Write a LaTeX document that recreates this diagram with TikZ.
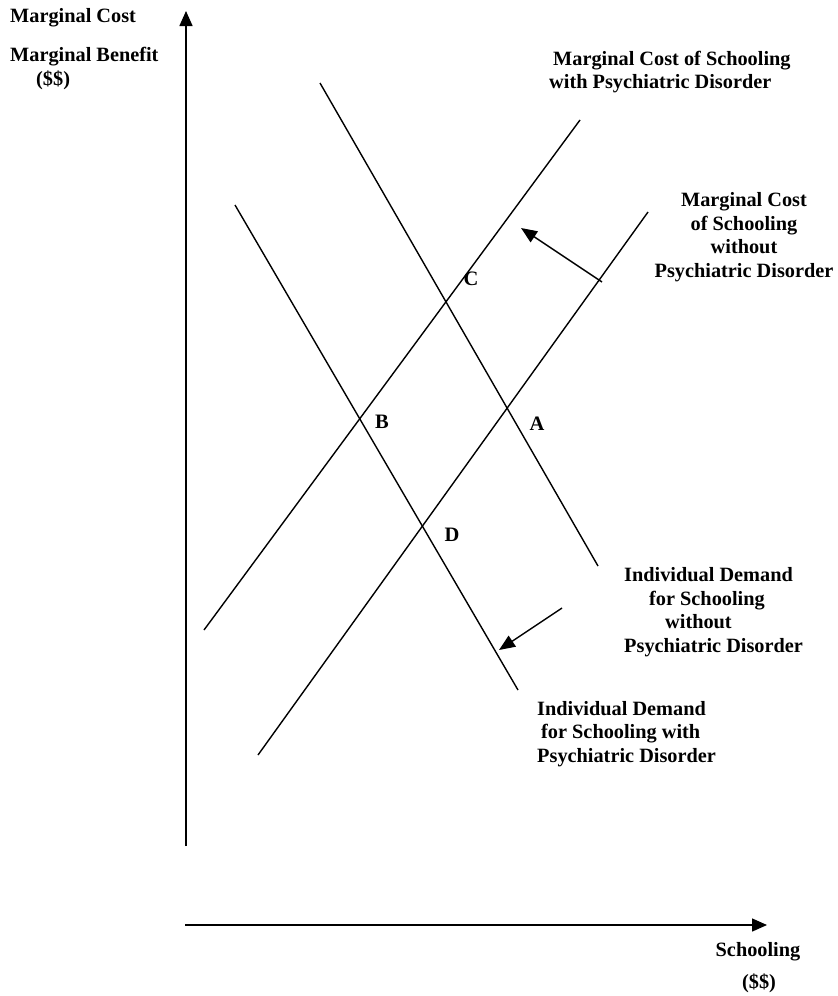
\documentclass[tikz,border=0pt]{standalone}
\usepackage{fontspec}
\setmainfont{Liberation Serif}
\usetikzlibrary{arrows.meta}

\tikzset{
  curve/.style={line width=1.4pt},
  axis/.style={line width=1.5pt, -{Triangle[length=15pt,width=13pt]}},
  shiftarrow/.style={line width=1.4pt, -{Triangle[length=16pt,width=13pt]}},
  lbl/.style={font=\fontsize{20.3}{23.6}\selectfont\bfseries, inner sep=0pt},
  pt/.style={font=\fontsize{20.5}{22}\selectfont\bfseries, inner sep=0pt}
}

\begin{document}
\begin{tikzpicture}[x=1pt, y=-1pt]
  \useasboundingbox (0,0) rectangle (838,996);

  % axes
  \coordinate (yorig) at (186,846);
  \coordinate (ytop) at (186,11);
  \coordinate (xorig) at (185,925);
  \coordinate (xend) at (767,925);
  \draw[axis] (yorig) -- (ytop);
  \draw[axis] (xorig) -- (xend);

  % marginal cost curves
  \coordinate (mcw1) at (204,630);  \coordinate (mcw2) at (580,120);
  \coordinate (mco1) at (258,755);  \coordinate (mco2) at (648,212);
  \draw[curve] (mcw1) -- (mcw2); % with disorder
  \draw[curve] (mco1) -- (mco2); % without disorder

  % demand curves
  \coordinate (dmo1) at (320,83);   \coordinate (dmo2) at (598,566);
  \coordinate (dmw1) at (235,205);  \coordinate (dmw2) at (518,690);
  \draw[curve] (dmo1) -- (dmo2); % without disorder
  \draw[curve] (dmw1) -- (dmw2); % with disorder

  % shifts
  \coordinate (s1a) at (602,282);  \coordinate (s1b) at (521,228);
  \coordinate (s2a) at (562,608);  \coordinate (s2b) at (499,650);
  \draw[shiftarrow] (s1a) -- (s1b);
  \draw[shiftarrow] (s2a) -- (s2b);

  % equilibrium points
  \node[pt] (C) at (471,279) {C};
  \node[pt] (B) at (382,422) {B};
  \node[pt] (A) at (537,424) {A};
  \node[pt] (D) at (452,535) {D};

  % axis labels
  \node[lbl, anchor=west] (mc) at (10,18) {Marginal Cost};
  \node[lbl, anchor=west] (mb) at (10,57) {Marginal Benefit};
  \node[lbl, anchor=west] (ydol) at (36,80) {(\$\$)};
  \node[lbl] (xlab) at (758,952) {Schooling};
  \node[lbl] (xdol) at (759,983) {(\$\$)};

  % curve labels
  \node[lbl, align=left, anchor=west] (mcwl) at (549,72)
    {\hspace*{4pt}Marginal Cost of Schooling\\with Psychiatric Disorder};
  \node[lbl, align=center] (mcol) at (744,237)
    {Marginal Cost\\of Schooling\\without\\Psychiatric Disorder};
  \node[lbl, align=left, anchor=west] (dmol) at (624,612)
    {Individual Demand\\\hspace*{25pt}for Schooling\\\hspace*{41pt}without\\Psychiatric Disorder};
  \node[lbl, align=left, anchor=west] (dmwl) at (537,734)
    {Individual Demand\\\hspace*{4pt}for Schooling with\\Psychiatric Disorder};
\end{tikzpicture}
\end{document}
